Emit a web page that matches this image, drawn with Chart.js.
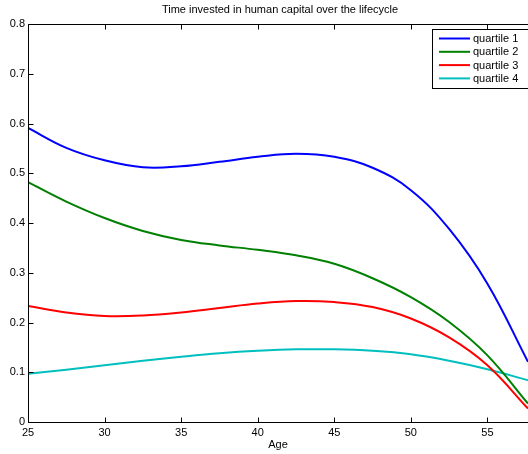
<!DOCTYPE html>
<html>
<head>
<meta charset="utf-8">
<script src="https://cdn.jsdelivr.net/npm/chart.js@4.4.1/dist/chart.umd.min.js"></script>
<style>
html,body{margin:0;padding:0;background:#fff;}
canvas{display:block;}
</style>
</head>
<body>
<canvas id="c" width="528" height="454"></canvas>
<script>
const ages = [25, 27.5, 30, 32.5, 35, 37.5, 40, 42.5, 45, 47.5, 50, 52.5, 55, 57.65];
const quartile1 = [0.591, 0.551, 0.526, 0.512, 0.514, 0.523, 0.533, 0.539, 0.533, 0.511, 0.466, 0.388, 0.278, 0.121];
const quartile2 = [0.482, 0.443, 0.410, 0.384, 0.366, 0.355, 0.346, 0.335, 0.318, 0.289, 0.251, 0.201, 0.134, 0.037];
const quartile3 = [0.233, 0.220, 0.213, 0.214, 0.220, 0.229, 0.238, 0.243, 0.241, 0.231, 0.208, 0.170, 0.114, 0.027];
const quartile4 = [0.097, 0.105, 0.114, 0.123, 0.131, 0.138, 0.143, 0.146, 0.146, 0.143, 0.136, 0.123, 0.106, 0.084];
const seriesNames = ['quartile 1', 'quartile 2', 'quartile 3', 'quartile 4'];
const xTicks = [25, 30, 35, 40, 45, 50, 55];
const yTicks = [0, 0.1, 0.2, 0.3, 0.4, 0.5, 0.6, 0.7, 0.8];
const titleText = 'Time invested in human capital over the lifecycle';
const xLabel = 'Age';

const colors = ['#0000ff', '#008000', '#ff0000', '#00bfbf'];
const FONT = '"Liberation Sans", Arial, Helvetica, sans-serif';

function pts(ys) { return ages.map((a, i) => ({x: a, y: ys[i]})); }
const allSeries = [quartile1, quartile2, quartile3, quartile4];

const matlabAxes = {
  id: 'matlabAxes',
  afterDraw(chart) {
    const ctx = chart.ctx;
    const a = chart.chartArea;
    const xs = chart.scales.x, ys = chart.scales.y;
    ctx.save();
    // title
    ctx.fillStyle = '#000';
    ctx.font = '11px ' + FONT;
    ctx.textAlign = 'center';
    ctx.textBaseline = 'middle';
    ctx.fillText(titleText, (a.left + a.right) / 2 + 2, 10);
    ctx.strokeStyle = '#000';
    ctx.lineWidth = 1;
    const L = Math.round(a.left) + 0.5, T = Math.round(a.top) + 0.5, B = Math.round(a.bottom) + 0.5, R = a.right + 2;
    ctx.beginPath();
    ctx.moveTo(R, T); ctx.lineTo(L, T); ctx.lineTo(L, B); ctx.lineTo(R, B);
    ctx.stroke();
    ctx.beginPath();
    xTicks.forEach(v => {
      const px = Math.round(xs.getPixelForValue(v)) + 0.5;
      ctx.moveTo(px, B); ctx.lineTo(px, B - 5);
      ctx.moveTo(px, T); ctx.lineTo(px, T + 5);
    });
    yTicks.forEach(v => {
      const py = Math.round(ys.getPixelForValue(v)) + 0.5;
      ctx.moveTo(L, py); ctx.lineTo(L + 5, py);
    });
    ctx.stroke();
    // legend
    const lx = 432.5, ly = 29.5, lw = 96, lh = 59;
    ctx.fillStyle = '#fff';
    ctx.fillRect(lx, ly, lw, lh);
    ctx.strokeRect(lx, ly, lw, lh);
    ctx.font = '11px ' + FONT;
    ctx.textBaseline = 'middle';
    ctx.textAlign = 'left';
    chart.data.datasets.forEach((ds, i) => {
      const y = 38.5 + i * 13.3;
      ctx.strokeStyle = ds.borderColor;
      ctx.lineWidth = 2;
      ctx.beginPath();
      ctx.moveTo(439, y); ctx.lineTo(470, y);
      ctx.stroke();
      ctx.fillStyle = '#000';
      ctx.fillText(ds.label, 473, y + 0.5);
    });
    ctx.restore();
  }
};

new Chart(document.getElementById('c'), {
  type: 'line',
  data: {
    datasets: allSeries.map((s, i) => ({
      label: seriesNames[i],
      data: pts(s),
      borderColor: colors[i],
      backgroundColor: colors[i],
      borderWidth: 2,
      pointRadius: 0,
      fill: false,
      tension: 0.4
    }))
  },
  options: {
    responsive: false,
    animation: false,
    devicePixelRatio: 1,
    layout: {padding: {left: 0, right: 0, top: 24, bottom: 0}},
    plugins: {
      legend: {display: false},
      tooltip: {enabled: false},
      title: {display: false}
    },
    scales: {
      x: {
        type: 'linear',
        min: 25,
        max: 57.65,
        grid: {display: false, drawTicks: false},
        border: {display: false},
        afterBuildTicks: s => { s.ticks = xTicks.map(v => ({value: v})); },
        afterFit: s => { s.height = 32; },
        ticks: {color: '#000', font: {family: FONT, size: 11}, padding: 4, maxRotation: 0, autoSkip: false},
        title: {display: true, text: xLabel, color: '#000', font: {family: FONT, size: 11}, padding: {top: 0, bottom: 2}}
      },
      y: {
        type: 'linear',
        min: 0,
        max: 0.8,
        grid: {display: false, drawTicks: false},
        border: {display: false},
        afterBuildTicks: s => { s.ticks = yTicks.map(v => ({value: v})); },
        afterFit: s => { s.width = 28; },
        ticks: {color: '#000', font: {family: FONT, size: 11}, padding: 3, autoSkip: false,
          callback: v => v === 0 ? '0' : v.toFixed(1)}
      }
    }
  },
  plugins: [matlabAxes]
});
</script>
</body>
</html>
